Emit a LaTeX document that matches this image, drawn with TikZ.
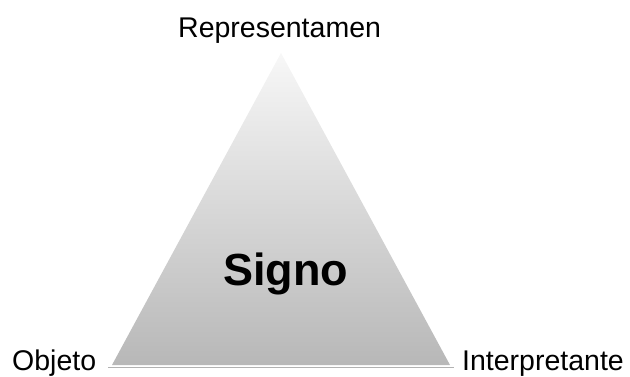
\documentclass[tikz,border=0pt]{standalone}
\usepackage{fontspec}
\setmainfont{Liberation Sans}
\usetikzlibrary{positioning}
\tikzset{
      cornerlabel/.style={
        anchor=base west,
        inner sep=0pt,
        font=\fontsize{28.5}{34}\selectfont
      },
      centerlabel/.style={
        anchor=base west,
        inner sep=0pt,
        font=\fontsize{45}{54}\selectfont\bfseries
      }
    }

\begin{document}
\begin{tikzpicture}[x=1pt,y=1pt]
    \useasboundingbox (0,0) rectangle (630,376);
    \coordinate (apex) at (281,323);
    \coordinate (left) at (112,11);
    \coordinate (right) at (450,11);
    \shade[top color=gray!6, bottom color=gray!56] (apex) -- (right) -- (left) -- cycle;
    \draw[gray!60, line width=1pt] ([xshift=-4pt,yshift=-2.5pt]left) -- ([xshift=4pt,yshift=-2.5pt]right);
    \node[cornerlabel] (rep) at (178,338) {Representamen};
    \node[cornerlabel] (obj) at (12,6) {Objeto};
    \node[cornerlabel] (int) at (462,6) {Interpretante};
    \node[centerlabel] (signo) at (223,91) {Signo};
    \end{tikzpicture}
\end{document}
